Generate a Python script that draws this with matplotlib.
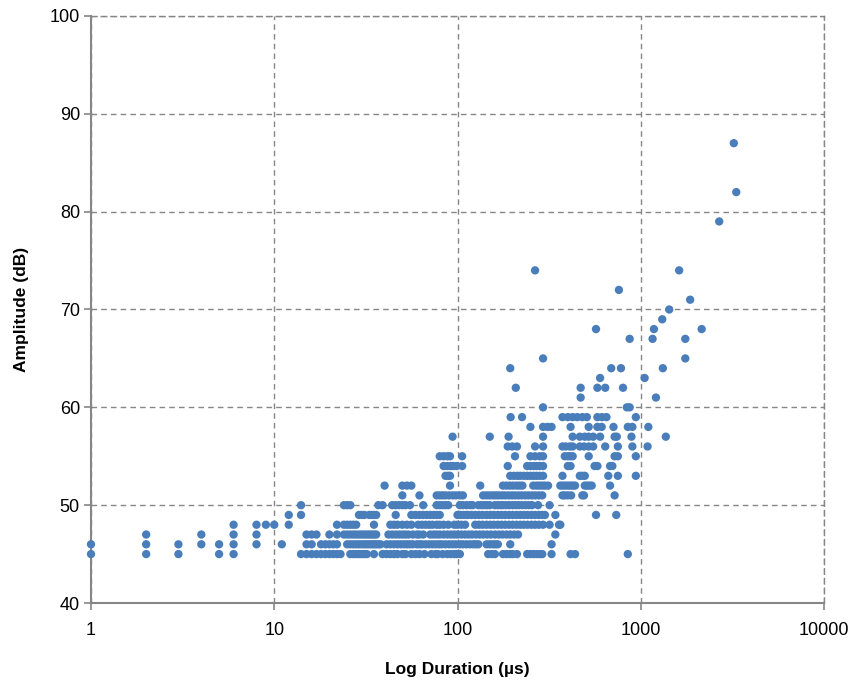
import matplotlib.pyplot as plt
from matplotlib.ticker import FixedLocator, NullLocator, FuncFormatter

amp_durations = {
    45: [1, 2, 3, 5, 6, 14, 15, 16, 17, 18, 19, 20, 21, 22, 23, 26, 27, 28, 29, 30, 31, 32,
         35, 39, 41, 43, 45, 47, 50, 52, 56, 59, 62, 66, 72, 76, 78, 83, 88, 92, 96, 99, 103,
         147, 154, 160, 177, 185, 193, 200, 211, 240, 250, 260, 270, 281, 290, 326, 414, 438, 850],
    46: [1, 2, 3, 4, 5, 6, 8, 11, 15, 16, 18, 19, 20, 21, 22, 25, 26, 27, 28, 29, 30, 31, 32,
         33, 34, 35, 36, 37, 38, 41, 43, 45, 47, 49, 51, 53, 55, 57, 60, 62, 64, 67, 70, 73,
         76, 79, 82, 86, 90, 94, 98, 103, 107, 112, 117, 122, 126, 130, 144, 150, 156, 161,
         166, 194, 326],
    47: [2, 4, 6, 8, 15, 16, 17, 20, 22, 24, 25, 26, 27, 28, 29, 30, 31, 32, 33, 34, 35, 36,
         42, 44, 46, 48, 50, 52, 54, 57, 60, 62, 65, 71, 74, 77, 80, 84, 88, 92, 96, 100, 105,
         110, 115, 120, 126, 132, 138, 145, 152, 160, 168, 176, 185, 194, 204, 214, 342],
    48: [6, 8, 9, 10, 12, 22, 24, 25, 26, 27, 28, 35, 43, 45, 47, 50, 53, 56, 61, 64, 67, 70,
         73, 77, 80, 84, 89, 96, 100, 105, 110, 125, 131, 137, 144, 151, 158, 166, 174, 182,
         191, 200, 210, 220, 230, 241, 253, 265, 278, 293, 318, 358, 364],
    49: [12, 14, 29, 30, 31, 33, 34, 35, 36, 46, 56, 59, 62, 65, 68, 71, 74, 77, 80, 100, 104,
         108, 112, 114, 119, 125, 131, 137, 144, 151, 158, 166, 174, 182, 191, 200, 210, 220,
         230, 241, 253, 265, 278, 290, 300, 342, 570, 735],
    50: [14, 24, 25, 26, 37, 39, 44, 46, 48, 50, 52, 55, 65, 77, 80, 83, 86, 89, 103, 107, 112,
         117, 121, 130, 135, 140, 145, 150, 160, 166, 172, 178, 185, 192, 200, 208, 216, 225,
         235, 245, 255, 275, 318],
    51: [50, 62, 77, 80, 83, 86, 90, 94, 98, 103, 107, 138, 144, 150, 156, 162, 168, 175, 182,
         190, 198, 206, 215, 224, 234, 244, 255, 266, 278, 290, 374, 385, 400, 417, 480, 490, 720],
    52: [40, 50, 53, 56, 91, 133, 177, 185, 193, 201, 210, 218, 226, 259, 270, 280, 290, 300,
         312, 364, 375, 387, 400, 413, 425, 438, 495, 510, 525, 540, 680],
    53: [86, 89, 91, 194, 203, 212, 220, 230, 240, 250, 260, 270, 281, 293, 374, 465, 480, 495,
         665, 750, 940],
    54: [84, 88, 92, 95, 99, 106, 188, 240, 250, 260, 270, 281, 293, 400, 414, 560, 580, 680, 700],
    55: [80, 84, 88, 91, 106, 206, 250, 265, 281, 293, 385, 400, 413, 425, 520, 720, 750, 940],
    56: [188, 199, 211, 265, 293, 374, 390, 410, 425, 465, 490, 520, 550, 640, 750, 900, 1090],
    57: [94, 150, 190, 293, 425, 465, 495, 520, 550, 600, 720, 740, 890, 1370],
    58: [250, 293, 310, 326, 414, 520, 580, 612, 710, 850, 900, 1100],
    59: [195, 225, 374, 400, 425, 450, 480, 508, 580, 615, 650, 940],
    60: [293, 840, 870],
    61: [470, 1210],
    62: [208, 470, 580, 640, 800],
    63: [600, 1050],
    64: [194, 690, 780, 1320],
    65: [293, 1750],
    67: [870, 1160, 1750],
    68: [570, 1180, 2150],
    69: [1310],
    70: [1430],
    71: [1860],
    72: [760],
    74: [265, 1620],
    79: [2680],
    82: [3320],
    87: [3220],
}

x_ticks = [1, 10, 100, 1000, 10000]
y_ticks = [40, 50, 60, 70, 80, 90, 100]

durations = []
amplitudes = []
for amp, ds in amp_durations.items():
    for d in ds:
        durations.append(d)
        amplitudes.append(amp)

plt.rcParams['font.family'] = ['Liberation Sans', 'DejaVu Sans']

fig = plt.figure(figsize=(8.56, 6.86), dpi=100)
ax = fig.add_axes([91 / 856, 1 - 603 / 686, (824 - 91) / 856, (603 - 16) / 686])

grey = '#868686'
ax.scatter(durations, amplitudes, s=36, color='#4A7EBB', edgecolors='none', zorder=3, clip_on=False)

ax.set_xscale('log')
ax.set_xlim(1, 10000)
ax.set_ylim(40, 100)
ax.xaxis.set_major_locator(FixedLocator(x_ticks))
ax.xaxis.set_minor_locator(NullLocator())
ax.xaxis.set_major_formatter(FuncFormatter(lambda v, p: '%d' % v))
ax.set_yticks(y_ticks)

ax.grid(True, which='major', color=grey, linestyle=(0, (4, 3)), linewidth=1.0)
ax.set_axisbelow(True)

for side in ['left', 'bottom']:
    ax.spines[side].set_color(grey)
    ax.spines[side].set_linewidth(1.5)
for side in ['top', 'right']:
    ax.spines[side].set_color(grey)
    ax.spines[side].set_linestyle((0, (4, 3)))
    ax.spines[side].set_linewidth(1.0)

ax.tick_params(axis='both', colors=grey, labelcolor='black', labelsize=13, length=5, width=1.2)
ax.tick_params(axis='x', pad=9)
ax.tick_params(axis='y', pad=3)

ax.set_xlabel('Log Duration (µs)', fontsize=12.5, fontweight='bold', labelpad=16)
ax.set_ylabel('Amplitude (dB)', fontsize=12.5, fontweight='bold', labelpad=15)

fig.savefig('out.png', dpi=100)
